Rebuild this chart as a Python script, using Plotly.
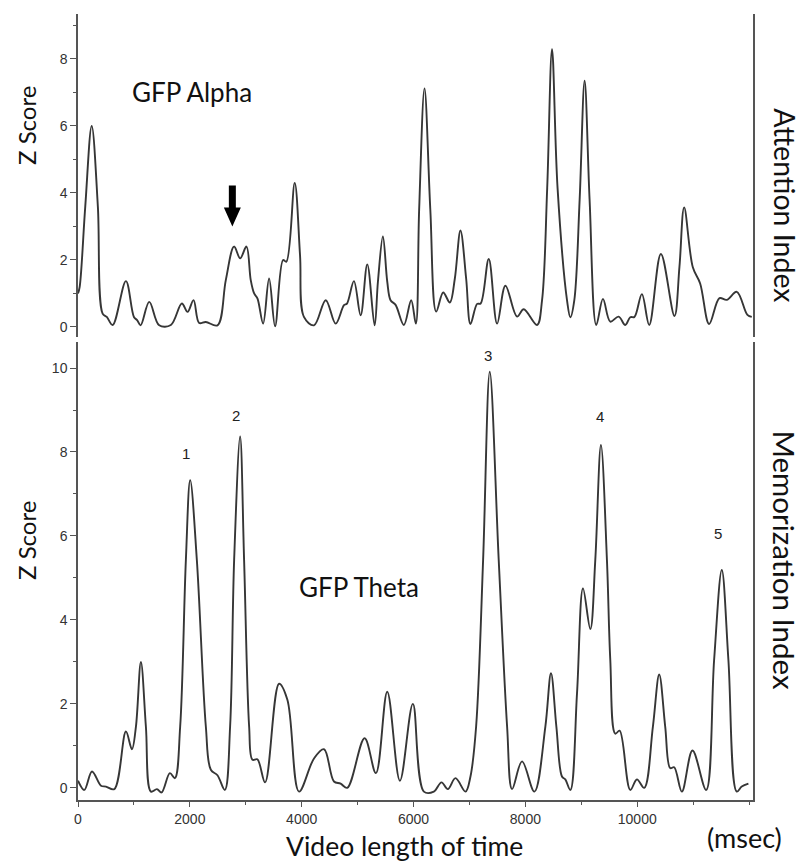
import plotly.graph_objects as go

# ---- Data ----
alpha_t = [0, 30, 130, 245, 355, 440, 515, 620, 857, 1000, 1060, 1120, 1274, 1452, 1661, 1857, 1959,
           2066, 2166, 2286, 2494, 2643, 2790, 2900, 3012, 3089, 3150, 3210, 3310, 3417, 3524, 3667,
           3726, 3875, 3970, 4040, 4220, 4430, 4607, 4756, 4810, 4934, 5054, 5173, 5304, 5363, 5452,
           5530, 5589, 5679, 5827, 5958, 6041, 6100, 6196, 6300, 6405, 6530, 6649, 6738, 6839, 6941,
           7018, 7137, 7200, 7345, 7494, 7643, 7851, 7970, 8208, 8298, 8390, 8476, 8575, 8744, 8804,
           8875, 8970, 9059, 9148, 9268, 9387, 9518, 9667, 9786, 9875, 9950, 10083, 10214, 10423,
           10666, 10755, 10839, 10994, 11125, 11286, 11470, 11601, 11780, 11970, 12048]
alpha_z = [1.0, 1.2, 3.6, 6.0, 3.6, 0.4, 0.3, 0.06, 1.37, 0.3, 0.2, 0.05, 0.75, 0.05, 0.06, 0.7, 0.45,
           0.8, 0.12, 0.15, 0.05, 1.4, 2.4, 2.05, 2.4, 1.4, 1.0, 0.85, 0.1, 1.45, 0.02, 2.0,
           1.95, 4.3, 2.15, 0.3, 0.05, 0.8, 0.1, 0.65, 0.7, 1.37, 0.35, 1.87, 0.05, 1.35, 2.7,
           1.35, 0.8, 0.66, 0.06, 0.8, 0.1, 3.5, 7.12, 3.5, 0.46, 1.03, 0.73, 1.44, 2.88, 1.44,
           0.09, 0.69, 0.7, 2.03, 0.1, 1.23, 0.31, 0.53, 0.06, 0.8, 4.15, 8.29, 4.15, 0.8, 0.29,
           0.8, 3.8, 7.35, 3.8, 0.06, 0.84, 0.16, 0.31, 0.06, 0.29, 0.3, 0.98, 0.06, 2.18,
           0.33, 1.8, 3.57, 1.78, 1.3, 0.09, 0.86, 0.81, 1.05, 0.36, 0.3]

theta_t = [0, 113, 250, 411, 500, 649, 857, 964, 1036, 1125, 1214, 1304, 1411, 1494, 1643, 1732, 1827,
           1929, 2006, 2125, 2286, 2375, 2494, 2625, 2720, 2792, 2899, 2970, 3060, 3119, 3208, 3345,
           3595, 3744, 3952, 4220, 4399, 4577, 4696, 4815, 5125, 5327, 5530, 5756, 5988, 6185, 6363,
           6500, 6613, 6750, 6929, 7018, 7119, 7244, 7363, 7523, 7673, 7762, 7940, 8161, 8357, 8458,
           8554, 8654, 8714, 8804, 8923, 9030, 9161, 9250, 9351, 9458, 9518, 9607, 9685, 9875, 9994,
           10125, 10280, 10393, 10500, 10589, 10661, 10798, 10988, 11232, 11375, 11512, 11630, 11780,
           11869, 11988]
theta_z = [0.17, -0.05, 0.39, 0.05, 0.03, -0.03, 1.34, 0.92, 1.46, 3.0, 1.46, -0.09, -0.03, -0.11, 0.35, 0.23, 1.46,
           5.43, 7.33, 5.43, 1.46, 0.43, 0.3, -0.05, 1.46, 5.43, 8.37, 5.43, 1.46, 0.67, 0.68, 0.13,
           2.48, 2.1, -0.09, 0.7, 0.92, 0.15, 0.1, 0.0, 1.18, 0.35, 2.29, 0.17, 2.0, -0.09, -0.09,
           0.13, -0.03, 0.23, -0.09, 0.27, 1.46, 5.43, 9.91, 5.43, 1.46, -0.03, 0.63, -0.09, 1.46, 2.73,
           1.46, 0.27, 0.2, -0.05, 2.25, 4.75, 3.78, 5.43, 8.17, 5.43, 3.05, 1.29, 1.36, -0.05, 0.2,
           0.0, 1.46, 2.7, 1.46, 0.47, 0.49, -0.09, 0.89, -0.05, 3.05, 5.19, 3.05, -0.09,
           0.03, 0.1]

peak_labels = ["1", "2", "3", "4", "5"]
peak_label_t = [1929, 2834, 7327, 9339, 11452]
peak_label_z = [7.97, 8.86, 10.31, 8.84, 6.05]

x_tickvals = [0, 2000, 4000, 6000, 8000, 10000]
x_ticktext = ["0", "2000", "4000", "6000", "8000", "10000"]
x_range = [0, 12070]
top_range = [-0.3, 9.34]
bot_range = [-0.29, 10.62]

arrow_t, arrow_tip_z = 2760, 3.0

LINE = "#363636"
AX = "#555555"
TICKFONT = dict(family="Liberation Sans, Arial", size=14, color="#333333")
TITLEFONT = "Lato, Open Sans, sans-serif"

fig = go.Figure()
fig.add_trace(go.Scatter(x=alpha_t, y=alpha_z, mode="lines", xaxis="x2", yaxis="y2",
                         line=dict(color=LINE, width=1.9, shape="spline", smoothing=1.0),
                         showlegend=False, hoverinfo="skip"))
fig.add_trace(go.Scatter(x=theta_t, y=theta_z, mode="lines", xaxis="x", yaxis="y",
                         line=dict(color=LINE, width=1.9, shape="spline", smoothing=1.0),
                         showlegend=False, hoverinfo="skip"))

yax_common = dict(showline=True, linecolor=AX, linewidth=1.5, mirror=True, ticks="outside",
                  ticklen=6, tickcolor=AX, tickwidth=1.2, dtick=2, tick0=0,
                  minor=dict(dtick=1, ticklen=3, tickcolor=AX, ticks="outside", showgrid=False),
                  showgrid=False, zeroline=False, tickfont=TICKFONT)

fig.update_layout(
    width=804, height=866,
    margin=dict(l=78, r=51, t=14, b=66),
    paper_bgcolor="white", plot_bgcolor="white",
    xaxis=dict(domain=[0, 1], range=x_range, anchor="y", showline=True, linecolor=AX, linewidth=1.5,
               ticks="outside", ticklen=5, tickcolor=AX, tickvals=x_tickvals, ticktext=x_ticktext,
               minor=dict(dtick=1000, tick0=0, ticklen=3, tickcolor=AX, ticks="outside", showgrid=False),
               showgrid=False, zeroline=False, tickfont=TICKFONT),
    yaxis=dict(domain=[0, 0.5827], range=bot_range, anchor="x", **yax_common),
    xaxis2=dict(domain=[0, 1], range=x_range, anchor="y2", visible=False),
    yaxis2=dict(domain=[0.589, 1], range=top_range, anchor="x2", **yax_common),
)


def label(text, x, y, size, angle=0, xref="paper", yref="paper", family=TITLEFONT, color="#111"):
    return dict(text=text, xref=xref, yref=yref, x=x, y=y, showarrow=False, textangle=angle,
                xanchor="center", yanchor="middle", font=dict(family=family, size=size, color=color))


ann = [
    label("Z Score", -0.0756, 0.8588, 24, -90),
    label("Z Score", -0.0756, 0.3308, 24, -90),
    label("Attention Index", 1.047, 0.757, 28.5, 90),
    label("Memorization Index", 1.047, 0.305, 29.5, 90),
    label("Video length of time", 0.484, -0.0585, 26.5),
    label("(msec)", 0.988, -0.048, 27),
    label("GFP Alpha", 2036, 7.0, 26, xref="x2", yref="y2"),
    label("GFP Theta", 5018, 4.79, 26, xref="x", yref="y"),
]
for lab, t, z in zip(peak_labels, peak_label_t, peak_label_z):
    ann.append(label(lab, t, z, 15, xref="x", yref="y", family="Liberation Sans, Arial", color="#222"))
fig.update_layout(annotations=ann)

# downward arrow glyph (decoration), sized in pixels around its tip
ms_per_px = (x_range[1] - x_range[0]) / 675.0
z_per_px = (top_range[1] - top_range[0]) / (786 * (1 - 0.589))
bw, hw, hh, bh = 3.5 * ms_per_px, 8.5 * ms_per_px, 19 * z_per_px, 41 * z_per_px
x0, y0 = arrow_t, arrow_tip_z
path = (f"M {x0-bw},{y0+bh} L {x0+bw},{y0+bh} L {x0+bw},{y0+hh} L {x0+hw},{y0+hh} "
        f"L {x0},{y0} L {x0-hw},{y0+hh} L {x0-bw},{y0+hh} Z")
fig.add_shape(type="path", path=path, xref="x2", yref="y2", fillcolor="black", line=dict(width=0))

fig.write_html("out.html", config={"displayModeBar": False},
               post_script="document.body.style.margin='0px';")
